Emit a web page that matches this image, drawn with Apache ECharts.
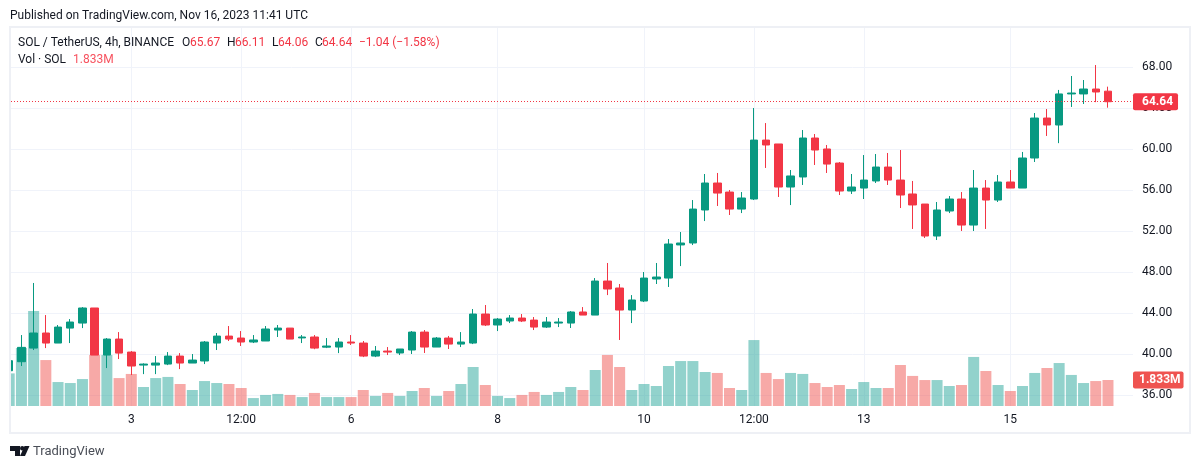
<!DOCTYPE html>
<html>
<head>
<meta charset="utf-8">
<title>SOL / TetherUS</title>
<script src="https://cdn.jsdelivr.net/npm/echarts@6/dist/echarts.min.js"></script>
<style>
	html, body { margin: 0; padding: 0; background: #fff; }
	#chart { width: 1200px; height: 469px; }
</style>
</head>
<body>
<div id="chart"></div>
<script type="text/javascript">
	// 4h candles, oldest first
	var opens = [38.4,39.28,40.61,42.08,41.1,42.56,43.05,44.52,39.93,41.49,40.22,38.95,38.95,39.05,39.83,39.15,39.35,41.1,41.78,41.59,41.2,41.3,42.37,42.56,41.6,41.69,40.7,40.71,41.2,41.1,39.83,40.32,40.13,40.42,42.17,40.71,41.59,41.0,41.1,43.93,42.86,43.25,43.54,43.34,42.66,43.05,43.05,44.13,43.83,47.15,46.47,44.32,45.2,47.35,47.44,50.67,50.86,54.08,56.71,55.83,54.17,55.15,60.9,60.52,56.32,57.3,61.1,60.03,58.66,55.93,56.22,56.91,58.27,57.0,55.64,54.66,51.54,53.98,55.15,52.61,56.22,55.05,56.81,56.22,59.15,63.05,62.37,65.4,65.4,65.88,65.67];
	var closes = [39.38,40.68,42.08,41.1,42.66,43.15,44.52,39.93,41.49,40.12,38.86,39.05,39.15,39.83,39.15,39.44,41.2,41.78,41.49,41.2,41.4,42.47,42.56,41.49,41.69,40.61,40.81,41.2,41.1,39.83,40.32,40.22,40.52,42.17,40.71,41.59,41.0,41.2,43.93,42.86,43.44,43.54,43.25,42.66,43.15,43.15,44.13,43.83,47.15,46.37,44.32,45.3,47.44,47.54,50.76,50.86,54.17,56.71,55.73,54.17,55.25,60.9,60.42,56.32,57.4,61.1,59.93,58.56,55.93,56.32,57.0,58.27,57.0,55.54,54.57,51.54,54.08,55.15,52.61,56.22,55.05,56.81,56.22,59.15,63.05,62.37,65.4,65.49,65.88,65.59,64.64];
	var lows = [38.3,38.86,40.42,40.61,41.1,41.1,42.56,39.93,38.66,39.54,37.98,38.07,38.07,38.95,38.56,39.15,39.05,40.42,41.3,40.81,41.1,41.3,41.69,41.49,41.1,40.5,40.61,40.12,40.91,39.73,39.73,39.93,39.93,40.03,40.13,40.71,40.52,40.71,41.0,42.76,42.27,43.05,43.15,42.37,42.57,42.66,42.57,43.83,43.83,45.78,41.4,43.05,45.1,46.86,46.57,48.61,50.66,53.0,54.47,53.59,53.78,55.05,58.18,55.35,54.56,56.52,58.47,57.69,55.54,55.64,55.15,56.71,56.52,54.27,52.23,51.35,51.15,53.78,52.03,52.03,52.23,54.86,56.22,56.22,58.76,61.3,60.6,64.13,64.42,64.6,64.06];
	var highs = [39.5,41.88,46.96,43.83,42.86,43.44,44.61,44.52,41.59,42.17,40.32,39.12,39.83,40.22,40.12,40.03,41.3,42.08,42.76,42.27,41.88,42.76,42.86,42.56,41.88,41.88,41.59,41.59,41.88,41.3,40.81,40.71,40.52,42.27,42.37,41.69,41.79,42.17,44.42,44.81,43.54,43.83,43.93,43.64,43.64,43.54,44.22,44.61,47.44,48.91,46.86,45.78,48.03,48.91,51.25,51.93,55.05,57.59,57.69,56.03,55.83,64.03,62.56,60.52,57.98,61.88,61.49,60.42,58.76,57.59,59.44,59.54,59.64,59.93,56.91,54.66,54.86,55.44,55.83,57.98,57.0,57.49,57.98,59.74,63.54,63.93,65.79,67.15,66.76,68.22,66.11];
	// volume in millions of SOL
	var volumes = [2.3,4.09,6.7,3.24,1.69,1.62,1.9,3.6,3.6,1.97,2.26,1.34,1.97,2.05,1.55,1.13,1.76,1.62,1.55,1.27,0.56,0.78,0.85,0.78,0.63,0.92,0.63,0.63,0.63,1.13,0.71,0.92,0.71,1.06,1.27,0.71,1.06,1.55,2.75,1.48,0.71,0.56,0.78,0.99,0.78,0.99,1.34,1.13,2.54,3.6,2.75,1.13,1.55,1.41,2.82,3.17,3.17,2.4,2.33,1.27,1.13,4.65,2.33,1.9,2.33,2.26,1.62,1.34,1.48,1.2,1.69,1.27,1.27,2.89,2.12,1.83,1.83,1.41,1.48,3.46,2.47,1.48,1.06,1.41,2.33,2.68,3.03,2.19,1.62,1.76,1.833];
	var priceTicks = [36,40,44,48,52,56,60,64,68];
	var timeTickIndex = [10,19,28,40,52,61,70,82];
	var timeTickLabels = ['3','12:00','6','8','10','12:00','13','15'];
	var lastPrice = 64.64;
	var lastVolume = 1.833;

	var UP = '#089981', DOWN = '#f23645';
	var FONT = 'Roboto, sans-serif';
	var TEXT = '#131722';

	function txt(x, y, s, color, size) {
		return {
			type: 'text', x: x, y: y, z: 20,
			style: { text: s, fill: color || TEXT, font: (size || 12) + 'px ' + FONT, textVerticalAlign: 'middle' }
		};
	}

	var candles = opens.map(function (o, i) {
		return [i, o, closes[i], lows[i], highs[i]];
	});
	var bars = volumes.map(function (v, i) {
		return {
			value: [i, v],
			itemStyle: { color: closes[i] >= opens[i] ? 'rgba(38,166,154,0.5)' : 'rgba(239,83,80,0.5)' }
		};
	});

	var chart = echarts.init(document.getElementById('chart'));
	chart.setOption({
		animation: false,
		backgroundColor: '#fff',
		textStyle: { fontFamily: FONT },
		grid: { left: 11, top: 27, width: 1122, height: 379, containLabel: false },
		xAxis: {
			type: 'value',
			min: 0.147,
			max: 92.05,
			axisLine: { show: false },
			axisTick: { show: false, customValues: timeTickIndex },
			axisLabel: {
				customValues: timeTickIndex,
				margin: 8,
				color: TEXT,
				fontSize: 12,
				fontFamily: FONT,
				formatter: function (v) { return timeTickLabels[timeTickIndex.indexOf(v)]; }
			},
			splitLine: { show: true, lineStyle: { color: '#f0f3fa', width: 1 } }
		},
		yAxis: [{
			type: 'value',
			position: 'right',
			min: 34.96,
			max: 71.93,
			axisLine: { show: false },
			axisTick: { show: false, customValues: priceTicks },
			axisLabel: {
				customValues: priceTicks,
				margin: 9,
				padding: [2, 0, 0, 0],
				color: TEXT,
				fontSize: 12,
				fontFamily: FONT,
				formatter: function (v) { return v.toFixed(2); }
			},
			splitLine: { show: true, lineStyle: { color: '#f0f3fa', width: 1 } }
		}, {
			type: 'value',
			position: 'right',
			min: 0,
			max: 26.73,
			axisLine: { show: false },
			axisTick: { show: false },
			axisLabel: { show: false },
			splitLine: { show: false }
		}],
		series: [{
			type: 'bar',
			yAxisIndex: 1,
			z: 1,
			barWidth: 11,
			data: bars,
			markLine: {
				silent: true,
				symbol: 'none',
				lineStyle: { color: 'rgba(0,0,0,0)', width: 1 },
				label: {
					show: true,
					position: 'end', distance: 0, color: '#fff', fontSize: 12, fontWeight: 'bold', fontFamily: FONT,
					backgroundColor: '#ef5350', padding: [3, 3, 2, 6], borderRadius: 2,
					formatter: lastVolume.toFixed(3) + 'M'
				},
				data: [{ yAxis: lastVolume }]
			}
		}, {
			type: 'candlestick',
			z: 3,
			barWidth: 8,
			encode: { x: 0, y: [1, 2, 3, 4] },
			data: candles,
			itemStyle: { color: UP, color0: DOWN, borderColor: UP, borderColor0: DOWN, borderWidth: 1 },
			markLine: {
				silent: true,
				symbol: 'none',
				lineStyle: { color: DOWN, type: [1, 2], width: 1 },
				label: {
					position: 'end', distance: 0, color: '#fff', fontSize: 12, fontWeight: 'bold', fontFamily: FONT,
					backgroundColor: DOWN, padding: [3, 5, 2, 9], borderRadius: 2,
					formatter: lastPrice.toFixed(2)
				},
				data: [{ yAxis: lastPrice }]
			}
		}],
		graphic: [
			// the first candle is cut off by the left edge of the pane
			{ type: 'rect', z: 19, silent: true, shape: { x: 0, y: 27, width: 10, height: 380 }, style: { fill: '#fff' } },
			{ type: 'rect', z: 20, silent: true, shape: { x: 10, y: 27, width: 1180, height: 406 }, style: { fill: 'none', stroke: '#eef0f5', lineWidth: 2 } },
			txt(10, 15.5, 'Published on TradingView.com, Nov 16, 2023 11:41 UTC'),
			txt(18, 43, 'SOL / TetherUS, 4h, BINANCE'),
			txt(182, 43, 'O'), txt(190, 43, '65.67', DOWN),
			txt(227, 43, 'H'), txt(235, 43, '66.11', DOWN),
			txt(272, 43, 'L'), txt(278, 43, '64.06', DOWN),
			txt(315, 43, 'C'), txt(322, 43, '64.64', DOWN),
			txt(359, 43, '\u22121.04 (\u22121.58%)', DOWN),
			txt(18, 60, 'Vol \u00b7 SOL'),
			txt(73, 60, '1.833M', '#f7525f'),
			// TradingView logo
			{ type: 'polygon', z: 20, shape: { points: [[10, 446], [20, 446], [20, 456], [15, 456], [15, 451], [10, 451]] }, style: { fill: '#131722' } },
			{ type: 'circle', z: 20, shape: { cx: 22.2, cy: 448.2, r: 2.2 }, style: { fill: '#131722' } },
			{ type: 'polygon', z: 20, shape: { points: [[24.5, 446], [29.5, 446], [25, 456], [20, 456]] }, style: { fill: '#131722' } },
			txt(33, 452, 'TradingView', '#4a4e57', 13)
		]
	});
</script>
</body>
</html>
